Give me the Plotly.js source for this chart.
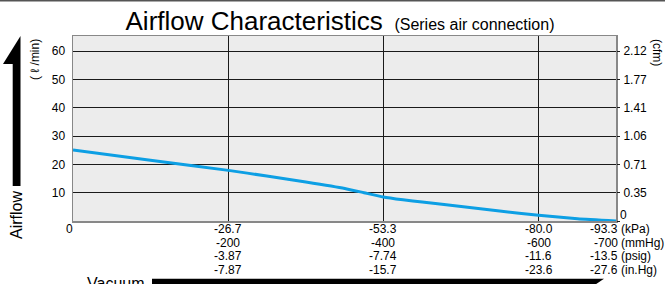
<!DOCTYPE html>
<html><head><meta charset="utf-8">
<script src="https://cdn.plot.ly/plotly-3.0.1.min.js"></script>
<style>html,body{margin:0;padding:0;background:#fff;}#chart{width:665px;height:284px;}</style>
</head><body><div id="chart"></div>
<script>
// Data
const vacuumKPa = [0, -13.3, -26.7, -33.3, -40, -46.7, -50, -53.3, -56.7, -60, -66.7, -73.3, -80, -86.7, -93.3];
const airflowLpm = [25.1, 21.5, 17.9, 15.9, 13.8, 11.5, 10.0, 8.5, 7.5, 6.7, 5.1, 3.5, 2.0, 0.8, 0];

const xTicks = [0, -26.7, -53.3, -80.0, -93.3];
const kpaLabels = ['0', '-26.7', '-53.3', '-80.0', '-93.3'];
const mmHgLabels = ['', '-200', '-400', '-600', '-700'];
const psigLabels = ['', '-3.87', '-7.74', '-11.6', '-13.5'];
const inHgLabels = ['', '-7.87', '-15.7', '-23.6', '-27.6'];
const unitLabels = ['(kPa)', '(mmHg)', '(psig)', '(in.Hg)'];

const lpmTicks = [10, 20, 30, 40, 50, 60];
const cfmTicks = [0, 10, 20, 30, 40, 50, 60];
const cfmLabels = ['0', '0.35', '0.71', '1.06', '1.41', '1.77', '2.12'];

const FONT = 'Liberation Sans, Arial, Helvetica, sans-serif';
const W = 665, H = 284, L = 73, R = 616, T = 36, B = 221;
const px = v => (v - L) / (R - L);
const py = v => (B - v) / (B - T);

const rows = [kpaLabels, mmHgLabels, psigLabels, inHgLabels];
const rowY = [229.3, 242.7, 256.3, 270.3];
const annotations = [];
rows.forEach((row, r) => {
  row.forEach((lab, i) => {
    if (!lab) return;
    const last = i === row.length - 1;
    annotations.push({
      xref: 'x', yref: 'paper', x: xTicks[i], y: 0,
      xanchor: last ? 'right' : 'center', yanchor: 'middle',
      xshift: last ? 4 : (i === 0 ? -4 : 0), yshift: -(rowY[r] - B),
      text: lab, showarrow: false, font: {family: FONT, size: 12, color: '#000'}
    });
  });
  annotations.push({
    xref: 'paper', yref: 'paper', x: 1, y: 0, xanchor: 'left', yanchor: 'middle',
    xshift: 3, yshift: -(rowY[r] - B), text: unitLabels[r], showarrow: false,
    font: {family: FONT, size: 12, color: '#000'}
  });
});
// right-axis zero label sits slightly raised above the unit rows
annotations.push({xref:'paper', yref:'y2', x: 1, y: cfmTicks[0], xanchor:'left', yanchor:'middle',
  xshift: 2, yshift: 6, text: cfmLabels[0], showarrow: false, font: {family: FONT, size: 12, color: '#000'}});
annotations.push({xref:'paper', yref:'paper', x: px(16), y: py(215), textangle: -90,
  text: 'Airflow', showarrow: false, font: {family: FONT, size: 16, color: '#000'}, xanchor:'center', yanchor:'middle'});
annotations.push({xref:'paper', yref:'paper', x: px(35), y: py(60), textangle: -90,
  text: '( ℓ /min)', showarrow: false, font: {family: FONT, size: 12, color: '#000'}, xanchor:'center', yanchor:'middle'});
annotations.push({xref:'paper', yref:'paper', x: px(657), y: py(52), textangle: 90,
  text: '(cfm)', showarrow: false, font: {family: FONT, size: 12, color: '#000'}, xanchor:'center', yanchor:'middle'});
annotations.push({xref:'paper', yref:'paper', x: px(85), y: py(283), xanchor:'left', yanchor:'middle',
  text: 'Vacuum', showarrow: false, font: {family: FONT, size: 16, color: '#000'}});

const shapes = [
  {type:'line', xref:'paper', yref:'paper', x0: px(0), x1: px(665), y0: py(0.7), y1: py(0.7), line:{color:'#555', width:1.5}},
  {type:'path', xref:'paper', yref:'paper', fillcolor:'#000', line:{width:0},
    path: `M ${px(20.5)} ${py(36)} L ${px(3)} ${py(64)} L ${px(12.7)} ${py(64)} L ${px(12.7)} ${py(186)} L ${px(20.5)} ${py(186)} Z`},
  {type:'path', xref:'paper', yref:'paper', fillcolor:'#000', line:{width:0},
    path: `M ${px(152)} ${py(278.7)} L ${px(604)} ${py(278.7)} L ${px(580)} ${py(295)} L ${px(152)} ${py(295)} Z`}
];

const traces = [
  {x: vacuumKPa, y: airflowLpm, mode: 'lines', line: {color: '#0d9fe4', width: 3, shape: 'spline', smoothing: 0.5},
   hoverinfo: 'skip', showlegend: false},
  {x: vacuumKPa, y: airflowLpm, yaxis: 'y2', mode: 'lines', line: {width: 0}, opacity: 0, hoverinfo: 'skip', showlegend: false}
];

const layout = {
  width: W, height: H,
  margin: {l: L, r: W - R, t: T, b: H - B, pad: 0},
  paper_bgcolor: '#fff', plot_bgcolor: '#ececec',
  font: {family: FONT, size: 12, color: '#000'},
  title: {text: 'Airflow Characteristics <span style="font-size:16px"> (Series air connection)</span>',
    font: {family: FONT, size: 26, color: '#000'}, x: 340 / W, xanchor: 'center', xref: 'container',
    y: 1 - 21 / H, yanchor: 'middle', yref: 'container'},
  xaxis: {range: [0, -93.3], tickvals: xTicks.slice(1, 4), showticklabels: false, ticks: '',
    showgrid: true, gridcolor: '#1a1a1a', gridwidth: 1, zeroline: false,
    showline: true, mirror: true, linecolor: '#888', linewidth: 1.5, fixedrange: true},
  yaxis: {range: [0, 65.4], tickvals: lpmTicks, ticktext: lpmTicks.map(String), ticks: '', ticklabelstandoff: 4,
    showgrid: true, gridcolor: '#1a1a1a', gridwidth: 1, zeroline: false,
    showline: true, mirror: true, linecolor: '#888', linewidth: 1.5,
    tickfont: {family: FONT, size: 12, color: '#000'}, fixedrange: true},
  yaxis2: {overlaying: 'y', side: 'right', range: [0, 65.4], tickvals: cfmTicks,
    ticktext: cfmLabels.map((t, i) => i === 0 ? '' : t),
    ticks: 'outside', ticklen: 3, tickcolor: '#1a1a1a', ticklabelstandoff: 1,
    showgrid: false, zeroline: false, showline: false,
    tickfont: {family: FONT, size: 12, color: '#000'}, fixedrange: true},
  annotations: annotations,
  shapes: shapes
};

Plotly.newPlot('chart', traces, layout, {staticPlot: true, displayModeBar: false});
</script></body></html>
